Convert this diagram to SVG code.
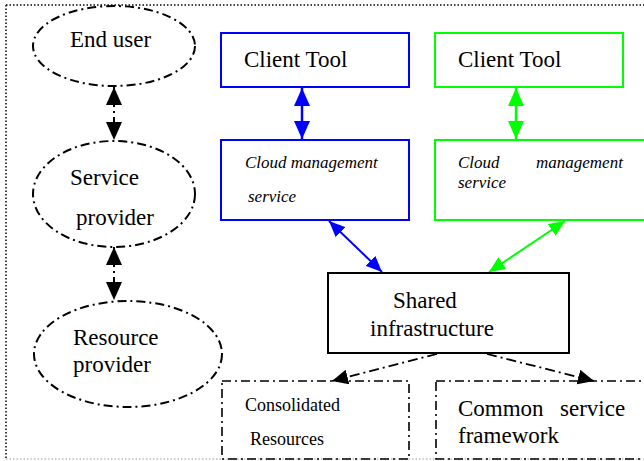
<svg xmlns="http://www.w3.org/2000/svg" width="644" height="461" viewBox="0 0 644 461">
<style>
text{font-family:"Liberation Serif","Times New Roman",serif;fill:#000}
.t{font-size:23px}
.it{font-size:17px;font-style:italic}
.s{font-size:18px}
.ell{fill:none;stroke:#000;stroke-width:2;stroke-dasharray:9 4 2 4}
.dd{fill:none;stroke:#000;stroke-width:1.6;stroke-dasharray:9 4 2 4}
</style>
<defs>
<marker id="hk" viewBox="0 0 18 16" refX="18" refY="8" markerWidth="18" markerHeight="16" markerUnits="userSpaceOnUse" orient="auto-start-reverse"><path d="M0,0L18,8L0,16z" fill="#000"/></marker>
<marker id="hb" viewBox="0 0 18 16" refX="18" refY="8" markerWidth="18" markerHeight="16" markerUnits="userSpaceOnUse" orient="auto-start-reverse"><path d="M0,0L18,8L0,16z" fill="#0000ff"/></marker>
<marker id="hg" viewBox="0 0 18 16" refX="18" refY="8" markerWidth="18" markerHeight="16" markerUnits="userSpaceOnUse" orient="auto-start-reverse"><path d="M0,0L18,8L0,16z" fill="#00ff00"/></marker>
<marker id="hbs" viewBox="0 0 16 14" refX="16" refY="7" markerWidth="16" markerHeight="14" markerUnits="userSpaceOnUse" orient="auto-start-reverse"><path d="M0,0L16,7L0,14z" fill="#0000ff"/></marker>
<marker id="hgs" viewBox="0 0 16 14" refX="16" refY="7" markerWidth="16" markerHeight="14" markerUnits="userSpaceOnUse" orient="auto-start-reverse"><path d="M0,0L16,7L0,14z" fill="#00ff00"/></marker>
<marker id="hd" viewBox="0 0 16 15" refX="16" refY="7.5" markerWidth="16" markerHeight="15" markerUnits="userSpaceOnUse" orient="auto"><path d="M0,0L16,7.5L0,15z" fill="#000"/></marker>
</defs>
<rect width="644" height="461" fill="#fff"/>
<g id="frame">
<line x1="6" y1="5" x2="644" y2="5" stroke="#000" stroke-width="1.5" stroke-dasharray="1.5 2"/>
<line x1="6" y1="5" x2="6" y2="459" stroke="#000" stroke-width="1.5" stroke-dasharray="1.5 2"/>
<line x1="6" y1="459" x2="644" y2="459" stroke="#999" stroke-width="1" stroke-dasharray="1.5 2"/>
</g>
<g id="connectors">
<line x1="114" y1="87" x2="114" y2="140" stroke="#000" stroke-width="2" stroke-dasharray="5 4 2 4" marker-start="url(#hk)" marker-end="url(#hk)"/>
<line x1="114" y1="247" x2="114" y2="300" stroke="#000" stroke-width="2" stroke-dasharray="5 4 2 4" marker-start="url(#hk)" marker-end="url(#hk)"/>
<line x1="302" y1="88" x2="302" y2="139" stroke="#0000ff" stroke-width="2.5" marker-start="url(#hb)" marker-end="url(#hb)"/>
<line x1="516" y1="88" x2="516" y2="139" stroke="#00ff00" stroke-width="2.5" marker-start="url(#hg)" marker-end="url(#hg)"/>
<line x1="329" y1="221" x2="382" y2="272" stroke="#0000ff" stroke-width="2" marker-start="url(#hbs)" marker-end="url(#hbs)"/>
<line x1="565" y1="221" x2="489" y2="272" stroke="#00ff00" stroke-width="2" marker-start="url(#hgs)" marker-end="url(#hgs)"/>
<line x1="437" y1="354" x2="332" y2="381" stroke="#000" stroke-width="1.8" stroke-dasharray="10 4 2 4" marker-end="url(#hd)"/>
<line x1="487" y1="354" x2="594" y2="381" stroke="#000" stroke-width="1.8" stroke-dasharray="10 4 2 4" marker-end="url(#hd)"/>
</g>
<g id="end-user">
<ellipse class="ell" cx="114" cy="46" rx="81" ry="40"/>
<text class="t" x="70" y="47">End user</text>
</g>
<g id="service-provider">
<ellipse class="ell" cx="114" cy="194" rx="81" ry="53"/>
<text class="t" x="70" y="185">Service</text>
<text class="t" x="76" y="225">provider</text>
</g>
<g id="resource-provider">
<ellipse class="ell" cx="128" cy="354" rx="94" ry="53"/>
<text class="t" x="73" y="345">Resource</text>
<text class="t" x="73" y="372">provider</text>
</g>
<g id="client-tool-blue">
<rect x="221" y="33" width="188" height="54" fill="none" stroke="#0000ff" stroke-width="2"/>
<text class="t" x="244" y="67">Client Tool</text>
</g>
<g id="cloud-mgmt-blue">
<rect x="221" y="140" width="188" height="80" fill="none" stroke="#0000ff" stroke-width="2"/>
<text class="it" x="245" y="168">Cloud management</text>
<text class="it" x="248" y="202">service</text>
</g>
<g id="client-tool-green">
<rect x="435" y="33" width="188" height="54" fill="none" stroke="#00ff00" stroke-width="2"/>
<text class="t" x="458" y="67">Client Tool</text>
</g>
<g id="cloud-mgmt-green">
<rect x="435" y="140" width="212" height="80" fill="none" stroke="#00ff00" stroke-width="2"/>
<text class="it" x="458" y="168">Cloud</text>
<text class="it" x="536" y="168">management</text>
<text class="it" x="458" y="188">service</text>
</g>
<g id="shared-infrastructure">
<rect x="328" y="273" width="241" height="80" fill="none" stroke="#000" stroke-width="2"/>
<text class="t" x="393" y="308">Shared</text>
<text class="t" x="370" y="336">infrastructure</text>
</g>
<g id="consolidated-resources">
<rect x="222" y="381" width="187" height="78" class="dd"/>
<text class="s" x="245" y="411">Consolidated</text>
<text class="s" x="250" y="445">Resources</text>
</g>
<g id="common-service-framework">
<rect x="436" y="381" width="212" height="78" class="dd"/>
<text class="t" x="458" y="416">Common</text>
<text class="t" x="560" y="416">service</text>
<text class="t" x="458" y="443">framework</text>
</g>
</svg>
